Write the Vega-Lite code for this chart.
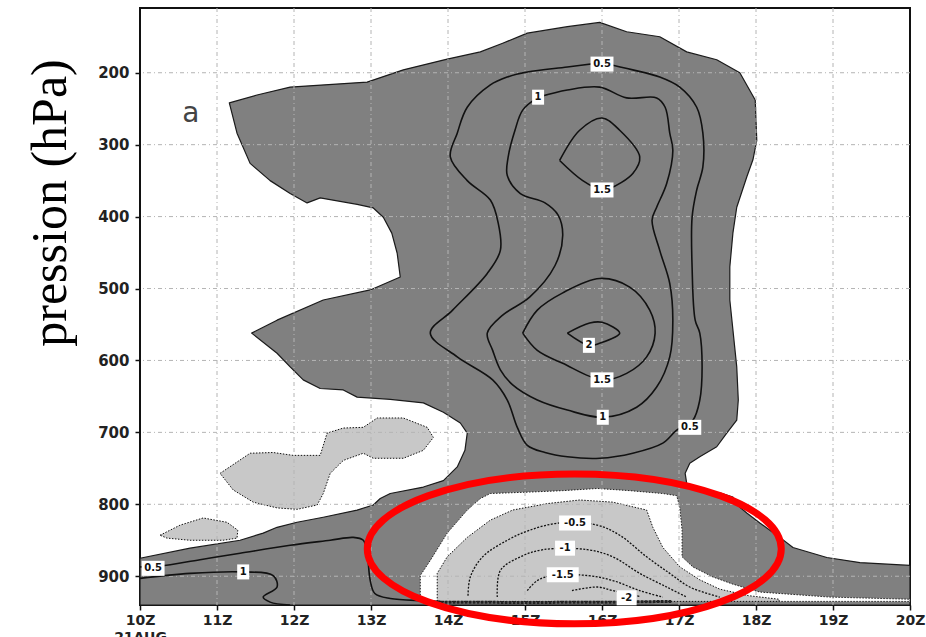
{
  "$schema": "https://vega.github.io/schema/vega-lite/v6.json",
  "width": 770,
  "height": 597,
  "autosize": {"type": "none"},
  "padding": {"left": 140, "top": 8, "right": 16, "bottom": 32},
  "background": "white",
  "config": {"view": {"stroke": "#111", "strokeWidth": 2}},
  "datasets": {
    "dark": [
      {"i":0,"t":10,"p":940},{"i":1,"t":10,"p":875},{"i":2,"t":10.65,"p":861},{"i":3,"t":11.3,"p":850},
      {"i":4,"t":11.6,"p":840},{"i":5,"t":11.78,"p":832},{"i":6,"t":12.04,"p":825},{"i":7,"t":12.38,"p":818},
      {"i":8,"t":12.82,"p":808},{"i":9,"t":13.03,"p":801},{"i":10,"t":13.12,"p":792},{"i":11,"t":13.25,"p":785},
      {"i":12,"t":13.68,"p":776},{"i":13,"t":13.94,"p":767},{"i":14,"t":14.12,"p":748},{"i":15,"t":14.22,"p":725},
      {"i":16,"t":14.25,"p":701},{"i":17,"t":14.16,"p":687},{"i":18,"t":13.94,"p":672},{"i":19,"t":13.68,"p":659},
      {"i":20,"t":13.25,"p":654},{"i":21,"t":12.82,"p":651},{"i":22,"t":12.64,"p":641},{"i":23,"t":12.34,"p":639},
      {"i":24,"t":12.12,"p":627},{"i":25,"t":11.95,"p":609},{"i":26,"t":11.78,"p":590},{"i":27,"t":11.45,"p":562},
      {"i":28,"t":11.78,"p":544},{"i":29,"t":12.38,"p":516},{"i":30,"t":12.99,"p":502},{"i":31,"t":13.38,"p":484},
      {"i":32,"t":13.34,"p":451},{"i":33,"t":13.27,"p":423},{"i":34,"t":13.16,"p":401},{"i":35,"t":13.03,"p":388},
      {"i":36,"t":12.82,"p":383},{"i":37,"t":12.34,"p":374},{"i":38,"t":12.17,"p":381},{"i":39,"t":11.95,"p":368},
      {"i":40,"t":11.69,"p":350},{"i":41,"t":11.43,"p":326},{"i":42,"t":11.26,"p":284},{"i":43,"t":11.16,"p":242},
      {"i":44,"t":11.52,"p":231},{"i":45,"t":11.95,"p":220},{"i":46,"t":12.95,"p":213},{"i":47,"t":13.42,"p":196},
      {"i":48,"t":13.99,"p":181},{"i":49,"t":14.42,"p":171},{"i":50,"t":14.71,"p":159},{"i":51,"t":15.03,"p":145},
      {"i":52,"t":15.55,"p":136},{"i":53,"t":15.97,"p":130},{"i":54,"t":16.32,"p":143},{"i":55,"t":16.75,"p":150},
      {"i":56,"t":17.1,"p":171},{"i":57,"t":17.49,"p":182},{"i":58,"t":17.79,"p":200},{"i":59,"t":17.99,"p":238},
      {"i":60,"t":18.01,"p":294},{"i":61,"t":17.96,"p":321},{"i":62,"t":17.88,"p":345},{"i":63,"t":17.75,"p":387},
      {"i":64,"t":17.7,"p":423},{"i":65,"t":17.66,"p":470},{"i":66,"t":17.66,"p":516},{"i":67,"t":17.75,"p":609},
      {"i":68,"t":17.77,"p":655},{"i":69,"t":17.75,"p":683},{"i":70,"t":17.62,"p":701},{"i":71,"t":17.49,"p":720},
      {"i":72,"t":17.27,"p":734},{"i":73,"t":17.14,"p":743},{"i":74,"t":17.08,"p":757},{"i":75,"t":17.1,"p":771},
      {"i":76,"t":17.27,"p":781},{"i":77,"t":17.53,"p":784},{"i":78,"t":17.7,"p":790},{"i":79,"t":17.79,"p":804},
      {"i":80,"t":17.88,"p":812},{"i":81,"t":18.05,"p":826},{"i":82,"t":18.31,"p":846},{"i":83,"t":18.48,"p":860},
      {"i":84,"t":18.92,"p":874},{"i":85,"t":19.35,"p":881},{"i":86,"t":20,"p":885},{"i":87,"t":20,"p":940},
      {"i":88,"t":10,"p":940}
    ],
    "islands": [
      {"g":"i1","i":0,"t":11.04,"p":757},{"g":"i1","i":1,"t":11.43,"p":729},{"g":"i1","i":2,"t":11.73,"p":728},
      {"g":"i1","i":3,"t":11.99,"p":732},{"g":"i1","i":4,"t":12.34,"p":732},{"g":"i1","i":5,"t":12.43,"p":701},
      {"g":"i1","i":6,"t":12.64,"p":694},{"g":"i1","i":7,"t":12.9,"p":693},{"g":"i1","i":8,"t":13.08,"p":680},
      {"g":"i1","i":9,"t":13.42,"p":680},{"g":"i1","i":10,"t":13.73,"p":693},{"g":"i1","i":11,"t":13.81,"p":707},
      {"g":"i1","i":12,"t":13.68,"p":725},{"g":"i1","i":13,"t":13.42,"p":736},{"g":"i1","i":14,"t":13.03,"p":736},
      {"g":"i1","i":15,"t":12.9,"p":729},{"g":"i1","i":16,"t":12.64,"p":739},{"g":"i1","i":17,"t":12.47,"p":757},
      {"g":"i1","i":18,"t":12.38,"p":785},{"g":"i1","i":19,"t":12.3,"p":801},{"g":"i1","i":20,"t":12.04,"p":807},
      {"g":"i1","i":21,"t":11.78,"p":805},{"g":"i1","i":22,"t":11.47,"p":797},{"g":"i1","i":23,"t":11.21,"p":780},
      {"g":"i1","i":24,"t":11.04,"p":757},
      {"g":"i2","i":0,"t":10.26,"p":843},{"g":"i2","i":1,"t":10.52,"p":829},{"g":"i2","i":2,"t":10.82,"p":819},
      {"g":"i2","i":3,"t":11.13,"p":825},{"g":"i2","i":4,"t":11.27,"p":836},{"g":"i2","i":5,"t":11.26,"p":847},
      {"g":"i2","i":6,"t":11.08,"p":850},{"g":"i2","i":7,"t":10.65,"p":850},{"g":"i2","i":8,"t":10.35,"p":847},
      {"g":"i2","i":9,"t":10.26,"p":843}
    ],
    "hole": [
      {"i":0,"t":13.64,"p":935},{"i":1,"t":13.64,"p":899},{"i":2,"t":13.77,"p":878},{"i":3,"t":13.99,"p":840},
      {"i":4,"t":14.25,"p":808},{"i":5,"t":14.42,"p":792},{"i":6,"t":14.55,"p":785},{"i":7,"t":15.06,"p":783},
      {"i":8,"t":15.49,"p":781},{"i":9,"t":15.94,"p":778},{"i":10,"t":16.36,"p":781},{"i":11,"t":16.79,"p":785},
      {"i":12,"t":16.97,"p":788},{"i":13,"t":17.01,"p":804},{"i":14,"t":17.04,"p":836},{"i":15,"t":17.04,"p":873},
      {"i":16,"t":17.18,"p":887},{"i":17,"t":17.44,"p":901},{"i":18,"t":17.7,"p":911},{"i":19,"t":18.05,"p":922},
      {"i":20,"t":18.96,"p":929},{"i":21,"t":20,"p":932},{"i":22,"t":20,"p":935},{"i":23,"t":13.64,"p":935}
    ],
    "light": [
      {"i":0,"t":13.86,"p":935},{"i":1,"t":13.86,"p":896},{"i":2,"t":13.99,"p":873},{"i":3,"t":14.25,"p":846},
      {"i":4,"t":14.55,"p":822},{"i":5,"t":14.84,"p":808},{"i":6,"t":15.29,"p":799},{"i":7,"t":15.71,"p":794},
      {"i":8,"t":16.14,"p":797},{"i":9,"t":16.58,"p":808},{"i":10,"t":16.66,"p":832},{"i":11,"t":16.79,"p":860},
      {"i":12,"t":17.01,"p":887},{"i":13,"t":17.27,"p":905},{"i":14,"t":17.53,"p":918},{"i":15,"t":17.9,"p":927},
      {"i":16,"t":18.3,"p":932},{"i":17,"t":18.3,"p":935},{"i":18,"t":13.86,"p":935}
    ],
    "gridx": [{"t":11},{"t":12},{"t":13},{"t":14},{"t":15},{"t":16},{"t":17},{"t":18},{"t":19}],
    "gridy": [{"p":200},{"p":300},{"p":400},{"p":500},{"p":600},{"p":700},{"p":800},{"p":900}],
    "pos": [
      {"c":"a","i":0,"t":16.0,"p":186},{"c":"a","i":1,"t":16.4,"p":196},{"c":"a","i":2,"t":16.75,"p":206},
      {"c":"a","i":3,"t":17.01,"p":220},{"c":"a","i":4,"t":17.23,"p":248},{"c":"a","i":5,"t":17.31,"p":284},
      {"c":"a","i":6,"t":17.31,"p":331},{"c":"a","i":7,"t":17.23,"p":363},{"c":"a","i":8,"t":17.17,"p":401},
      {"c":"a","i":9,"t":17.17,"p":470},{"c":"a","i":10,"t":17.21,"p":544},{"c":"a","i":11,"t":17.27,"p":562},
      {"c":"a","i":12,"t":17.3,"p":609},{"c":"a","i":13,"t":17.27,"p":655},{"c":"a","i":14,"t":17.18,"p":683},
      {"c":"a","i":15,"t":16.97,"p":697},{"c":"a","i":16,"t":16.79,"p":715},{"c":"a","i":17,"t":16.4,"p":729},
      {"c":"a","i":18,"t":15.97,"p":736},{"c":"a","i":19,"t":15.55,"p":734},{"c":"a","i":20,"t":15.26,"p":728},
      {"c":"a","i":21,"t":15.03,"p":718},{"c":"a","i":22,"t":14.9,"p":693},{"c":"a","i":23,"t":14.77,"p":655},
      {"c":"a","i":24,"t":14.58,"p":627},{"c":"a","i":25,"t":14.12,"p":595},{"c":"a","i":26,"t":13.77,"p":562},
      {"c":"a","i":27,"t":14.06,"p":530},{"c":"a","i":28,"t":14.51,"p":479},{"c":"a","i":29,"t":14.68,"p":447},
      {"c":"a","i":30,"t":14.65,"p":408},{"c":"a","i":31,"t":14.55,"p":377},{"c":"a","i":32,"t":14.25,"p":350},
      {"c":"a","i":33,"t":14.03,"p":317},{"c":"a","i":34,"t":14.12,"p":284},{"c":"a","i":35,"t":14.25,"p":248},
      {"c":"a","i":36,"t":14.55,"p":217},{"c":"a","i":37,"t":14.77,"p":206},{"c":"a","i":38,"t":15.03,"p":199},
      {"c":"a","i":39,"t":15.55,"p":192},{"c":"a","i":40,"t":16.0,"p":186},
      {"c":"b","i":0,"t":15.17,"p":234},{"c":"b","i":1,"t":15.55,"p":224},{"c":"b","i":2,"t":15.97,"p":220},
      {"c":"b","i":3,"t":16.32,"p":235},{"c":"b","i":4,"t":16.71,"p":235},{"c":"b","i":5,"t":16.82,"p":248},
      {"c":"b","i":6,"t":16.88,"p":284},{"c":"b","i":7,"t":16.92,"p":308},{"c":"b","i":8,"t":16.84,"p":354},
      {"c":"b","i":9,"t":16.71,"p":387},{"c":"b","i":10,"t":16.65,"p":405},{"c":"b","i":11,"t":16.75,"p":447},
      {"c":"b","i":12,"t":16.88,"p":493},{"c":"b","i":13,"t":16.92,"p":544},{"c":"b","i":14,"t":16.88,"p":595},
      {"c":"b","i":15,"t":16.71,"p":637},{"c":"b","i":16,"t":16.45,"p":665},{"c":"b","i":17,"t":16.01,"p":679},
      {"c":"b","i":18,"t":15.55,"p":669},{"c":"b","i":19,"t":15.16,"p":655},{"c":"b","i":20,"t":14.84,"p":634},
      {"c":"b","i":21,"t":14.68,"p":613},{"c":"b","i":22,"t":14.58,"p":586},{"c":"b","i":23,"t":14.51,"p":562},
      {"c":"b","i":24,"t":14.71,"p":537},{"c":"b","i":25,"t":15.06,"p":512},{"c":"b","i":26,"t":15.39,"p":468},
      {"c":"b","i":27,"t":15.49,"p":426},{"c":"b","i":28,"t":15.43,"p":398},{"c":"b","i":29,"t":15.26,"p":381},
      {"c":"b","i":30,"t":14.94,"p":368},{"c":"b","i":31,"t":14.77,"p":343},{"c":"b","i":32,"t":14.78,"p":318},
      {"c":"b","i":33,"t":14.87,"p":280},{"c":"b","i":34,"t":14.97,"p":252},{"c":"b","i":35,"t":15.17,"p":234},
      {"c":"c","i":0,"t":15.45,"p":322},{"c":"c","i":1,"t":15.71,"p":280},{"c":"c","i":2,"t":16.0,"p":263},
      {"c":"c","i":3,"t":16.23,"p":280},{"c":"c","i":4,"t":16.49,"p":317},{"c":"c","i":5,"t":16.4,"p":340},
      {"c":"c","i":6,"t":16.1,"p":361},{"c":"c","i":7,"t":16.0,"p":363},{"c":"c","i":8,"t":15.75,"p":350},
      {"c":"c","i":9,"t":15.45,"p":322},
      {"c":"d","i":0,"t":14.97,"p":562},{"c":"d","i":1,"t":15.16,"p":530},{"c":"d","i":2,"t":15.49,"p":506},
      {"c":"d","i":3,"t":15.97,"p":486},{"c":"d","i":4,"t":16.36,"p":498},{"c":"d","i":5,"t":16.62,"p":530},
      {"c":"d","i":6,"t":16.69,"p":562},{"c":"d","i":7,"t":16.58,"p":595},{"c":"d","i":8,"t":16.32,"p":618},
      {"c":"d","i":9,"t":16.0,"p":627},{"c":"d","i":10,"t":15.49,"p":604},{"c":"d","i":11,"t":15.16,"p":586},
      {"c":"d","i":12,"t":14.97,"p":562},
      {"c":"e","i":0,"t":15.55,"p":562},{"c":"e","i":1,"t":15.84,"p":548},{"c":"e","i":2,"t":16.0,"p":547},
      {"c":"e","i":3,"t":16.23,"p":562},{"c":"e","i":4,"t":15.97,"p":576},{"c":"e","i":5,"t":15.83,"p":579},
      {"c":"e","i":6,"t":15.55,"p":562},
      {"c":"f","i":0,"t":10,"p":887},{"c":"f","i":1,"t":10.26,"p":886},{"c":"f","i":2,"t":10.78,"p":877},
      {"c":"f","i":3,"t":11.3,"p":868},{"c":"f","i":4,"t":11.95,"p":857},{"c":"f","i":5,"t":12.47,"p":850},
      {"c":"f","i":6,"t":12.77,"p":846},{"c":"f","i":7,"t":12.9,"p":850},{"c":"f","i":8,"t":12.95,"p":868},
      {"c":"f","i":9,"t":12.99,"p":906},{"c":"f","i":10,"t":13.05,"p":924},{"c":"f","i":11,"t":13.25,"p":931},
      {"c":"f","i":12,"t":13.68,"p":934},{"c":"f","i":13,"t":13.9,"p":935},
      {"c":"g","i":0,"t":10,"p":903},{"c":"g","i":1,"t":10.65,"p":896},{"c":"g","i":2,"t":11.34,"p":894},
      {"c":"g","i":3,"t":11.73,"p":899},{"c":"g","i":4,"t":11.78,"p":915},{"c":"g","i":5,"t":11.6,"p":929},
      {"c":"g","i":6,"t":11.69,"p":936},{"c":"g","i":7,"t":11.95,"p":940}
    ],
    "neg": [
      {"c":"n1","i":0,"t":14.26,"p":927},{"c":"n1","i":1,"t":14.29,"p":901},{"c":"n1","i":2,"t":14.45,"p":873},
      {"c":"n1","i":3,"t":14.77,"p":850},{"c":"n1","i":4,"t":15.06,"p":836},{"c":"n1","i":5,"t":15.45,"p":826},
      {"c":"n1","i":6,"t":15.94,"p":829},{"c":"n1","i":7,"t":16.23,"p":843},{"c":"n1","i":8,"t":16.58,"p":873},
      {"c":"n1","i":9,"t":16.88,"p":896},{"c":"n1","i":10,"t":17.14,"p":915},{"c":"n1","i":11,"t":17.53,"p":929},
      {"c":"n2","i":0,"t":14.64,"p":929},{"c":"n2","i":1,"t":14.68,"p":892},{"c":"n2","i":2,"t":14.94,"p":873},
      {"c":"n2","i":3,"t":15.24,"p":863},{"c":"n2","i":4,"t":15.81,"p":863},{"c":"n2","i":5,"t":16.14,"p":873},
      {"c":"n2","i":6,"t":16.49,"p":896},{"c":"n2","i":7,"t":16.84,"p":915},{"c":"n2","i":8,"t":17.1,"p":929},
      {"c":"n3","i":0,"t":15.03,"p":920},{"c":"n3","i":1,"t":15.16,"p":906},{"c":"n3","i":2,"t":15.36,"p":899},
      {"c":"n3","i":3,"t":15.81,"p":899},{"c":"n3","i":4,"t":16.14,"p":906},{"c":"n3","i":5,"t":16.49,"p":920},
      {"c":"n3","i":6,"t":16.79,"p":929},
      {"c":"n4","i":0,"t":15.61,"p":920},{"c":"n4","i":1,"t":15.94,"p":915},{"c":"n4","i":2,"t":16.14,"p":920},
      {"c":"n4","i":3,"t":16.49,"p":928}
    ],
    "bottom": [
      {"i":0,"t":13.8,"p":936},{"i":1,"t":15.0,"p":936.5},{"i":2,"t":16.2,"p":936},{"i":3,"t":16.9,"p":935}
    ],
    "labels": [
      {"label":"0.5","t":16.0,"p":188},
      {"label":"1","t":15.17,"p":234},
      {"label":"1.5","t":16.0,"p":363},
      {"label":"2","t":15.83,"p":579},
      {"label":"1.5","t":16.0,"p":627},
      {"label":"1","t":16.01,"p":679},
      {"label":"0.5","t":17.14,"p":693},
      {"label":"0.5","t":10.17,"p":889},
      {"label":"1","t":11.34,"p":894},
      {"label":"-0.5","t":15.65,"p":826},
      {"label":"-1","t":15.52,"p":861},
      {"label":"-1.5","t":15.49,"p":898},
      {"label":"-2","t":16.32,"p":930}
    ]
  },
  "layer": [
    {
      "data": {"name": "dark"},
      "mark": {"type": "line", "fill": "#808080", "stroke": "#1a1a1a", "strokeWidth": 1.2, "strokeJoin": "round"},
      "encoding": {
        "x": {"field": "t", "type": "quantitative",
          "scale": {"domain": [10, 20], "nice": false, "zero": false},
          "axis": {"values": [10,11,12,13,14,15,16,17,18,19,20],
            "labelExpr": "datum.value == 10 ? ['10Z','21AUG'] : format(datum.value, 'd') + 'Z'",
            "title": null, "grid": false, "domain": false, "ticks": true, "tickSize": 5,
            "tickColor": "#111", "tickWidth": 1.5, "labelFont": "DejaVu Sans", "labelFontSize": 14,
            "labelFontWeight": "bold", "labelColor": "#222", "labelPadding": 3, "labelFlush": false,
            "labelOverlap": false, "labelLineHeight": 17}},
        "y": {"field": "p", "type": "quantitative",
          "scale": {"domain": [110, 940], "reverse": true, "nice": false, "zero": false},
          "axis": {"values": [200,300,400,500,600,700,800,900],
            "title": "pression (hPa)", "titleFont": "Liberation Serif", "titleFontSize": 50,
            "titleFontWeight": "normal", "titleColor": "black", "titleX": -90, "titleY": 194.5,
            "titleAngle": 270, "titleAlign": "center", "titleBaseline": "middle",
            "grid": false, "domain": false, "ticks": true, "tickSize": 5, "tickColor": "#111", "tickWidth": 1.5,
            "labelFont": "DejaVu Sans", "labelFontSize": 15, "labelFontWeight": "bold", "labelColor": "#222",
            "labelPadding": 6, "labelFlush": false, "labelOverlap": false}},
        "order": {"field": "i", "type": "quantitative"}
      }
    },
    {
      "data": {"name": "islands"},
      "mark": {"type": "line", "fill": "#c8c8c8", "stroke": "#111", "strokeWidth": 1, "strokeDash": [1.5, 1.5]},
      "encoding": {
        "x": {"field": "t", "type": "quantitative"},
        "y": {"field": "p", "type": "quantitative"},
        "detail": {"field": "g"},
        "order": {"field": "i", "type": "quantitative"}
      }
    },
    {
      "data": {"name": "hole"},
      "mark": {"type": "line", "fill": "white", "stroke": "#222", "strokeWidth": 1, "strokeDash": [1.5, 1.5]},
      "encoding": {
        "x": {"field": "t", "type": "quantitative"},
        "y": {"field": "p", "type": "quantitative"},
        "order": {"field": "i", "type": "quantitative"}
      }
    },
    {
      "data": {"name": "light"},
      "mark": {"type": "line", "fill": "#c8c8c8", "stroke": "#111", "strokeWidth": 1, "strokeDash": [1.5, 1.5]},
      "encoding": {
        "x": {"field": "t", "type": "quantitative"},
        "y": {"field": "p", "type": "quantitative"},
        "order": {"field": "i", "type": "quantitative"}
      }
    },
    {
      "data": {"name": "gridx"},
      "mark": {"type": "rule", "stroke": "#b4b4b4", "strokeWidth": 1, "strokeDash": [4, 3, 1, 3]},
      "encoding": {"x": {"field": "t", "type": "quantitative"}}
    },
    {
      "data": {"name": "gridy"},
      "mark": {"type": "rule", "stroke": "#b4b4b4", "strokeWidth": 1, "strokeDash": [4, 3, 1, 3]},
      "encoding": {"y": {"field": "p", "type": "quantitative"}}
    },
    {
      "data": {"name": "pos"},
      "mark": {"type": "line", "stroke": "#111", "strokeWidth": 1.6, "interpolate": "catmull-rom", "strokeJoin": "round"},
      "encoding": {
        "x": {"field": "t", "type": "quantitative"},
        "y": {"field": "p", "type": "quantitative"},
        "detail": {"field": "c"},
        "order": {"field": "i", "type": "quantitative"}
      }
    },
    {
      "data": {"name": "neg"},
      "mark": {"type": "line", "stroke": "#111", "strokeWidth": 1.3, "strokeDash": [2, 1.5], "interpolate": "catmull-rom"},
      "encoding": {
        "x": {"field": "t", "type": "quantitative"},
        "y": {"field": "p", "type": "quantitative"},
        "detail": {"field": "c"},
        "order": {"field": "i", "type": "quantitative"}
      }
    },
    {
      "data": {"name": "bottom"},
      "mark": {"type": "line", "stroke": "#222", "strokeWidth": 3, "strokeDash": [3, 1]},
      "encoding": {
        "x": {"field": "t", "type": "quantitative"},
        "y": {"field": "p", "type": "quantitative"},
        "order": {"field": "i", "type": "quantitative"}
      }
    },
    {
      "data": {"name": "labels"},
      "mark": {"type": "point", "filled": true, "fill": "white", "opacity": 1, "strokeWidth": 0, "size": 225},
      "encoding": {
        "x": {"field": "t", "type": "quantitative"},
        "y": {"field": "p", "type": "quantitative"},
        "shape": {"field": "label", "type": "nominal", "legend": null,
          "scale": {"domain": ["0.5","1","1.5","2","-0.5","-1","-1.5","-2"],
            "range": ["M-1.53,-1L1.53,-1L1.53,1L-1.53,1Z","M-0.8,-1L0.8,-1L0.8,1L-0.8,1Z",
                      "M-1.53,-1L1.53,-1L1.53,1L-1.53,1Z","M-0.8,-1L0.8,-1L0.8,1L-0.8,1Z",
                      "M-2.13,-1L2.13,-1L2.13,1L-2.13,1Z","M-1.33,-1L1.33,-1L1.33,1L-1.33,1Z",
                      "M-2.13,-1L2.13,-1L2.13,1L-2.13,1Z","M-1.33,-1L1.33,-1L1.33,1L-1.33,1Z"]}}
      }
    },
    {
      "data": {"name": "labels"},
      "mark": {"type": "text", "font": "DejaVu Sans", "fontSize": 10, "fontWeight": "bold", "color": "#111", "baseline": "middle", "align": "center"},
      "encoding": {
        "x": {"field": "t", "type": "quantitative"},
        "y": {"field": "p", "type": "quantitative"},
        "text": {"field": "label"}
      }
    },
    {
      "data": {"values": [{"t": 10.66, "p": 257, "txt": "a"}]},
      "mark": {"type": "text", "font": "DejaVu Sans", "fontSize": 28, "color": "#444", "baseline": "middle", "align": "center"},
      "encoding": {
        "x": {"field": "t", "type": "quantitative"},
        "y": {"field": "p", "type": "quantitative"},
        "text": {"field": "txt"}
      }
    },
    {
      "data": {"values": [{"t": 15.64, "p": 862}]},
      "mark": {"type": "point", "filled": false, "stroke": "#ff0000", "strokeWidth": 7, "opacity": 1, "size": 171396,
        "shape": "M-1,0C-1,-0.2,-0.5523,-0.362,0,-0.362C0.5523,-0.362,1,-0.2,1,0C1,0.2,0.5523,0.362,0,0.362C-0.5523,0.362,-1,0.2,-1,0Z"},
      "encoding": {
        "x": {"field": "t", "type": "quantitative"},
        "y": {"field": "p", "type": "quantitative"}
      }
    }
  ]
}
